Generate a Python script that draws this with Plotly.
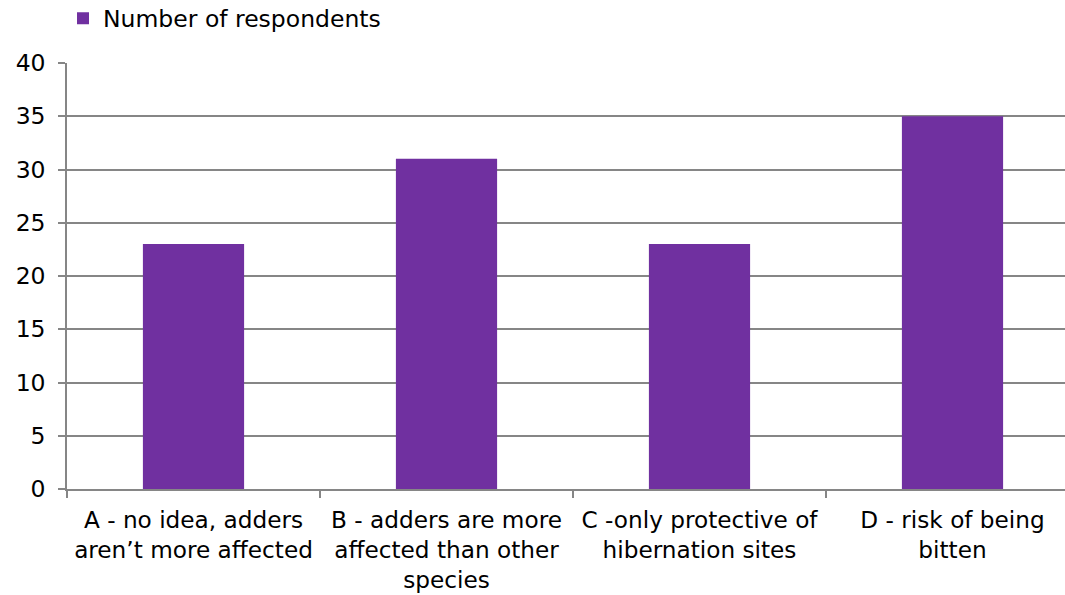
import plotly.graph_objects as go

categories = [
    "A - no idea, adders<br>aren\u2019t more affected",
    "B - adders are more<br>affected than other<br>species",
    "C -only protective of<br>hibernation sites",
    "D - risk of being<br>bitten",
]
respondents = [23, 31, 23, 35]
series_name = "Number of respondents"
y_ticks = [0, 5, 10, 15, 20, 25, 30, 35, 40]

grid = "#868686"
font = "DejaVu Sans, Liberation Sans, Arial, sans-serif"

fig = go.Figure()
fig.add_trace(go.Bar(
    x=categories, y=respondents, name=series_name,
    marker=dict(color="#7030A0", line=dict(width=0)),
    width=0.4,
))

fig.update_layout(
    width=1065, height=595,
    margin=dict(l=67, r=0, t=63, b=106, autoexpand=False),
    paper_bgcolor="white", plot_bgcolor="white",
    font=dict(family=font, size=23, color="#000000"),
    showlegend=True,
    legend=dict(x=-0.004, y=1.1045, xanchor="left", yanchor="middle",
                font=dict(size=23.5), bgcolor="rgba(0,0,0,0)",
                itemwidth=30, tracegroupgap=0),
    bargap=0.6,
)
fig.update_xaxes(
    type="category",
    range=[-0.5, 3.5 - 14 / 253],
    automargin=False,
    showline=True, linecolor=grid, linewidth=1.5,
    ticks="outside", tickson="boundaries", ticklen=7, tickcolor=grid, tickwidth=1.5,
    showgrid=False,
    tickfont=dict(size=23.2),
    ticklabelstandoff=9,
)
fig.update_yaxes(
    range=[0, 40], tickvals=y_ticks,
    automargin=False,
    showline=True, linecolor=grid, linewidth=1.5,
    ticks="outside", ticklen=7, tickcolor=grid, tickwidth=1.5,
    showgrid=True, gridcolor=grid, gridwidth=1.5,
    zeroline=False,
    tickfont=dict(size=23.5),
    ticklabelstandoff=8,
)

fig.write_html("out.html", config={"displayModeBar": False},
               post_script="document.body.style.margin='0';")
